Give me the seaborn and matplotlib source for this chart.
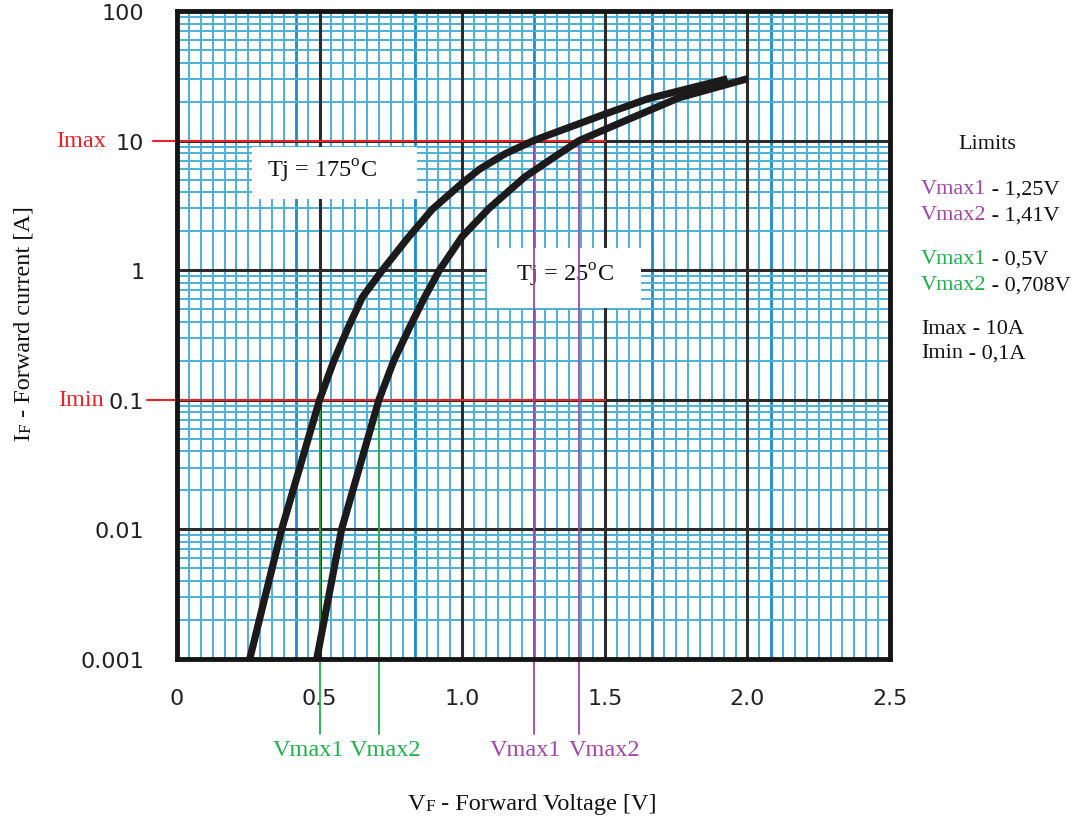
import matplotlib
matplotlib.use("Agg")
import matplotlib.pyplot as plt
from matplotlib.patches import Rectangle
import numpy as np
import pandas as pd
import seaborn as sns

# Forward characteristics: IF (A) against VF (V) at two junction temperatures
vf_175 = [0.255, 0.367, 0.50, 0.55, 0.60, 0.65, 0.72, 0.81, 0.895, 1.00, 1.06, 1.15, 1.25, 1.50, 1.65, 1.93]
if_175 = [0.001, 0.01, 0.1, 0.2, 0.36, 0.62, 1.0, 1.78, 2.95, 4.7, 6.0, 7.9, 10, 16, 21, 30]
vf_25 = [0.49, 0.577, 0.708, 0.76, 0.815, 0.865, 0.92, 1.0, 1.094, 1.22, 1.32, 1.41, 1.58, 1.76, 2.00]
if_25 = [0.001, 0.01, 0.1, 0.2, 0.36, 0.6, 1.0, 1.82, 3.0, 5.25, 7.4, 10, 14.5, 21.4, 30]

# Current limits and the voltages read at them
i_max = 10
i_min = 0.1
vmax_at_imin = [0.5, 0.708]
vmax_at_imax = [1.25, 1.41]
vmax_names = ["Vmax1", "Vmax2"]

x_ticks = [0, 0.5, 1.0, 1.5, 2.0, 2.5]
x_tick_labels = ["0", "0.5", "1.0", "1.5", "2.0", "2.5"]
y_ticks = [0.001, 0.01, 0.1, 1, 10, 100]
y_tick_labels = ["0.001", "0.01", "0.1", "1", "10", "100"]

limits_lines = [
    ("Vmax1", " - 1,25V", "purple"),
    ("Vmax2", " - 1,41V", "purple"),
    ("Vmax1", " - 0,5V", "green"),
    ("Vmax2", " - 0,708V", "green"),
    ("Imax", " - 10A", "black"),
    ("Imin", " - 0,1A", "black"),
]

RED = "#e8232a"
GREEN = "#22b04b"
PURPLE = "#a346a6"
CYAN = "#4cb0d8"
CYAN_DARK = "#1a8fc6"
INK = "#1c1a1a"
colors = {"purple": PURPLE, "green": GREEN, "black": "#111111"}

sns.set_style("white")
plt.rcParams["font.family"] = ["Liberation Serif", "DejaVu Serif"]
plt.rcParams["mathtext.fontset"] = "custom"
plt.rcParams["mathtext.rm"] = "Liberation Serif"

W, H = 1084, 820
fig = plt.figure(figsize=(W / 100, H / 100), dpi=100)
L, R, T, B = 177, 890, 12, 660
ax = fig.add_axes([L / W, 1 - B / H, (R - L) / W, (B - T) / H])
ax.set_yscale("log")
ax.set_xlim(0, 2.5)
ax.set_ylim(0.001, 100)


def fx(px):
    return px / W


def fy(py):
    return 1 - py / H


# graph-paper background
for k, xv in enumerate(np.linspace(0, 2.5, 61)):
    dark = k % 10 == 0
    ax.axvline(xv, color=CYAN_DARK if dark else CYAN, lw=2.0 if dark else 1.4, zorder=0.5)
for dec in range(-3, 2):
    for m in range(2, 10):
        ax.axhline(m * 10.0 ** dec, color=CYAN, lw=1.4, zorder=0.5)
for xv in x_ticks[1:-1]:
    ax.axvline(xv, color="#2b2b2b", lw=2.2, zorder=0.8)
for yv in y_ticks[1:-1]:
    ax.axhline(yv, color="#2b2b2b", lw=2.2, zorder=0.8)

# label boxes
ax.add_patch(Rectangle((0.263, 3.55), 0.58, 8.98 - 3.55, facecolor="white", edgecolor="none", zorder=1))
ax.add_patch(Rectangle((1.087, 0.51), 0.539, 1.48 - 0.51, facecolor="white", edgecolor="none", zorder=1))
ax.text(0.508, 5.9, r"Tj = 175$^{\mathrm{o}}$C", fontsize=17.5, ha="center", va="center", color="#111111", zorder=1.2)
ax.text(1.36, 0.92, r"Tj = 25$^{\mathrm{o}}$C", fontsize=17.5, ha="center", va="center", color="#111111", zorder=1.2)

# characteristic curves
df = pd.concat([
    pd.DataFrame({"VF": vf_175, "IF": if_175, "Tj": "175"}),
    pd.DataFrame({"VF": vf_25, "IF": if_25, "Tj": "25"}),
])
sns.lineplot(data=df, x="VF", y="IF", hue="Tj", palette=[INK, INK], lw=5.2,
             sort=False, estimator=None, legend=False, ax=ax, zorder=4,
             solid_capstyle="butt", solid_joinstyle="round")

# limit lines
bottom_y = ax.transData.inverted().transform(ax.transAxes.transform((0, -0.116)))[1]
ax.plot([-0.085, 1.5], [i_max, i_max], color=RED, lw=1.5, clip_on=False, zorder=3)
ax.plot([-0.105, 1.5], [i_min, i_min], color=RED, lw=1.5, clip_on=False, zorder=3)
for v in vmax_at_imin:
    ax.plot([v, v], [i_min, bottom_y], color=GREEN, lw=1.3, clip_on=False, zorder=3)
for v in vmax_at_imax:
    ax.plot([v, v], [i_max, bottom_y], color=PURPLE, lw=1.3, clip_on=False, zorder=3)

xt = ax.get_xaxis_transform()
for v, name, dx in zip(vmax_at_imin, vmax_names, [-11, 7]):
    ax.annotate(name, (v, -0.139), xycoords=xt, xytext=(dx, 0), textcoords="offset pixels",
                ha="center", va="center", fontsize=17.5, color=GREEN)
for v, name, dx in zip(vmax_at_imax, vmax_names, [-8, 25]):
    ax.annotate(name, (v, -0.139), xycoords=xt, xytext=(dx, 0), textcoords="offset pixels",
                ha="center", va="center", fontsize=17.5, color=PURPLE)

yt = ax.get_yaxis_transform()
ax.text(-0.099, i_max, "Imax", transform=yt, ha="right", va="center", fontsize=17.5, color=RED)
ax.text(-0.103, i_min, "Imin", transform=yt, ha="right", va="center", fontsize=17.5, color=RED)

# ticks
ax.set_xticks(x_ticks)
ax.set_xticklabels(x_tick_labels)
ax.set_yticks(y_ticks)
ax.set_yticklabels(y_tick_labels)
ax.minorticks_off()
ax.set_yticks([], minor=True)
ax.tick_params(axis="both", length=0, labelsize=16, colors="#222222")
ax.tick_params(axis="x", pad=21)
ax.tick_params(axis="y", pad=23.5)
for lab in ax.get_xticklabels() + ax.get_yticklabels():
    lab.set_fontfamily(["DejaVu Sans"])
for sp in ax.spines.values():
    sp.set_color("#151515")
    sp.set_linewidth(3.5)
    sp.set_zorder(5)
ax.set_xlabel("")
ax.set_ylabel("")

# axis titles with small-capital subscripts
vx = fig.text(fx(408), fy(805), "V", fontsize=17.5, ha="left", va="center", color="#111111")
fsub = plt.annotate("F", xy=(1, 0), xycoords=vx, ha="left", va="bottom",
                    fontsize=12.5, color="#111111", annotation_clip=False)
plt.annotate(" - Forward Voltage [V]", xy=(1, 0), xycoords=fsub, ha="left", va="bottom",
             fontsize=17.5, color="#111111", annotation_clip=False)

iy = fig.text(fx(24), fy(441), "I", fontsize=17.5, rotation=90, ha="center", va="bottom", color="#111111")
isub = plt.annotate("F", xy=(1, 1), xycoords=iy, ha="right", va="bottom", rotation=90,
                    fontsize=12.5, color="#111111", annotation_clip=False)
plt.annotate(" - Forward current [A]", xy=(1, 1), xycoords=isub, ha="right", va="bottom",
             rotation=90, fontsize=17.5, color="#111111", annotation_clip=False)

# limits summary
fig.text(fx(987), fy(145), "Limits", fontsize=16, ha="center", va="center", color="#111111")
rows_y = [190, 216, 260, 286, 329, 354]
for (name, rest, c), py in zip(limits_lines, rows_y):
    t = fig.text(fx(921), fy(py), name, fontsize=16, ha="left", va="center", color=colors[c])
    plt.annotate(rest, xy=(1, 0), xycoords=t, ha="left", va="bottom", fontsize=16,
                 color="#111111", annotation_clip=False)

fig.savefig("out.png", dpi=100)
